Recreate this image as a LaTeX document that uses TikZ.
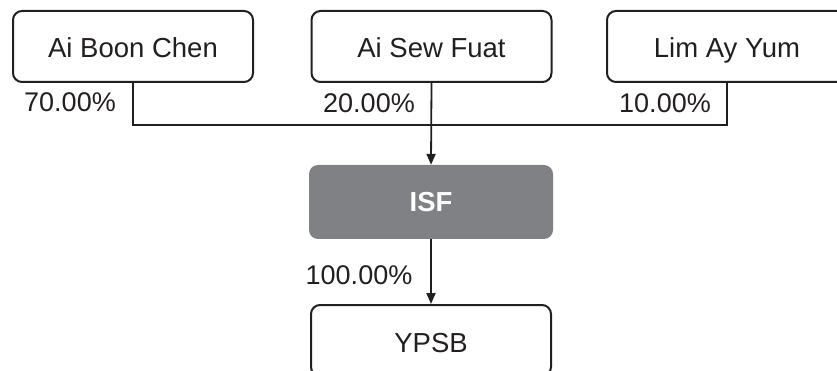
\documentclass[tikz,border=0pt]{standalone}
\usepackage{fontspec}
\setmainfont{Liberation Sans}
\usetikzlibrary{arrows.meta}
\definecolor{ink}{HTML}{231F20}
\definecolor{isfgray}{HTML}{808184}
\begin{document}
\begin{tikzpicture}[x=1pt,y=-1pt,
  box/.style={draw=ink,line width=2pt,rounded corners=9pt,fill=white,minimum width=240pt,minimum height=71pt,inner sep=0pt,font=\fontsize{27.5}{30}\selectfont,text=ink,text height=27pt,text depth=4pt},
  pct/.style={font=\fontsize{27}{30}\selectfont,text=ink,inner sep=0pt},
  link/.style={draw=ink,line width=1.8pt},
  arr/.style={link,-{Triangle[length=11pt,width=9pt]}}]
\useasboundingbox (0,0) rectangle (837,371);
\clip (0,0) rectangle (837,371);
\node[box] (b1) at (133,46.5) {Ai Boon Chen};
\node[box] (b2) at (431.5,46.5) {Ai Sew Fuat};
\node[box] (b3) at (727,46.5) {Lim Ay Yum};
\node[fill=isfgray,rounded corners=9pt,minimum width=244pt,minimum height=74pt,inner sep=0pt,text=white,font=\fontsize{27.5}{30}\selectfont\bfseries] (isf) at (431,202) {ISF};
\node[box] (ypsb) at (431,340.5) {YPSB};
\coordinate (j) at (431.5,125);
\draw[link] (b1.south) |- (j);
\draw[link] (b3.south) |- (j);
\draw[arr] (b2.south) -- (isf.north);
\draw[arr] (isf.south) -- (ypsb.north);
\node[pct] (p1) at (70,102) {70.00\%};
\node[pct] (p2) at (369,103) {20.00\%};
\node[pct] (p3) at (665,103) {10.00\%};
\node[pct] (p4) at (359,275) {100.00\%};
\end{tikzpicture}
\end{document}
